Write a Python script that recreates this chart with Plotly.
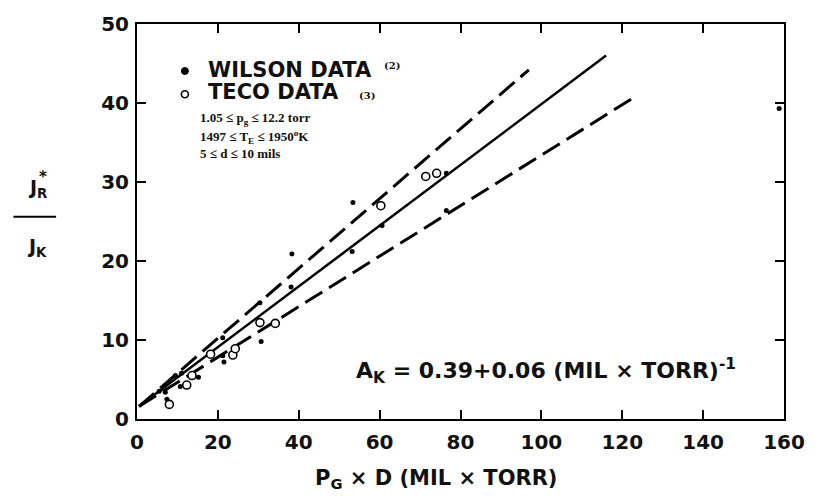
import plotly.graph_objects as go

# ---- data ----
wilson_x = [5.5, 7.0, 7.4, 9.5, 10.7, 11.0, 15.2, 21.2, 21.2, 21.5, 30.4, 30.7,
            38.3, 38.1, 53.4, 53.2, 60.6, 76.5, 76.5, 158.8]
wilson_y = [3.5, 3.4, 2.5, 5.5, 4.1, 5.8, 5.3, 10.3, 8.0, 7.2, 14.7, 9.8,
            20.9, 16.7, 27.4, 21.2, 24.5, 31.1, 26.4, 39.3]

teco_x = [8.0, 12.3, 13.6, 18.2, 23.7, 24.3, 30.4, 34.2, 60.3, 71.4, 74.1]
teco_y = [1.85, 4.3, 5.5, 8.2, 8.1, 8.9, 12.2, 12.1, 27.0, 30.7, 31.1]

fit_x = [0.5, 116.0]
fit_y = [1.6, 46.0]
upper_x = [0.5, 96.9]
upper_y = [1.6, 44.2]
lower_x = [0.5, 123.5]
lower_y = [1.6, 40.9]

x_ticks = [0, 20, 40, 60, 80, 100, 120, 140, 160]
y_ticks = [0, 10, 20, 30, 40, 50]

BOLD = "DejaVu Sans"

fig = go.Figure()
fig.add_trace(go.Scatter(x=upper_x, y=upper_y, mode="lines",
                         line=dict(color="black", width=3, dash="20px,8px")))
fig.add_trace(go.Scatter(x=fit_x, y=fit_y, mode="lines",
                         line=dict(color="black", width=2.5)))
fig.add_trace(go.Scatter(x=lower_x, y=lower_y, mode="lines",
                         line=dict(color="black", width=3, dash="20px,8px")))
fig.add_trace(go.Scatter(x=wilson_x, y=wilson_y, mode="markers",
                         marker=dict(color="black", size=5, symbol="circle")))
fig.add_trace(go.Scatter(x=teco_x, y=teco_y, mode="markers",
                         marker=dict(color="white", size=8, symbol="circle",
                                     line=dict(color="black", width=1.6))))

axis_common = dict(showline=True, linecolor="black", linewidth=2, mirror="ticks",
                   ticks="inside", ticklen=9, tickwidth=2, tickcolor="black",
                   showgrid=False, zeroline=False,
                   tickfont=dict(family=BOLD, size=20, color="#111", weight="bold"))

fig.update_xaxes(range=[0, 160], tickvals=x_ticks, ticklabelstandoff=4, **axis_common)
fig.update_yaxes(range=[0, 50], tickvals=y_ticks, ticklabelstandoff=2, **axis_common)

ann = []
def txt(x, y, s, size, family=BOLD, xanchor="left", color="#111"):
    ann.append(dict(x=x, y=y, xref="paper", yref="paper", text=s, showarrow=False,
                    xanchor=xanchor, yanchor="middle",
                    font=dict(family=family, size=size, color=color)))

# legend block
txt(0.106, 0.884, "<b>WILSON DATA</b>", 21)
txt(0.378, 0.896, "<b>(2)</b>", 10, family="DejaVu Serif")
txt(0.106, 0.827, "<b>TECO DATA</b>", 21)
txt(0.340, 0.818, "<b>(3)</b>", 10, family="DejaVu Serif")
txt(0.094, 0.760, "<b>1.05 ≤ p<sub>g</sub> ≤ 12.2 torr</b>", 13, family="Liberation Serif")
txt(0.094, 0.715, "<b>1497 ≤ T<sub>E</sub> ≤ 1950<sup>o</sup>K</b>", 13, family="Liberation Serif")
txt(0.094, 0.671, "<b>5 ≤ d ≤ 10 mils</b>", 13, family="Liberation Serif")

# equation
txt(0.632, 0.121, "<b>A<sub>K</sub> = 0.39+0.06 (MIL × TORR)<sup>-1</sup></b>", 22,
    xanchor="center")

# axis titles
txt(0.462, -0.151, "<b>P<sub>G</sub> × D (MIL × TORR)</b>", 21, xanchor="center")
txt(-0.154, 0.584, "<b>J<sub>R</sub></b>", 19, xanchor="center")
txt(-0.146, 0.613, "<b>*</b>", 15, xanchor="center")
txt(-0.154, 0.433, "<b>J<sub>K</sub></b>", 19, xanchor="center")

shapes = [
    dict(type="line", xref="paper", yref="paper", x0=-0.191, x1=-0.125,
         y0=0.512, y1=0.512, line=dict(color="black", width=2)),
    dict(type="circle", xref="paper", yref="paper", xsizemode="pixel", ysizemode="pixel",
         xanchor=0.074, yanchor=0.881, x0=-3.5, x1=3.5, y0=-3.5, y1=3.5,
         fillcolor="black", line=dict(color="black", width=1)),
    dict(type="circle", xref="paper", yref="paper", xsizemode="pixel", ysizemode="pixel",
         xanchor=0.074, yanchor=0.822, x0=-3.5, x1=3.5, y0=-3.5, y1=3.5,
         fillcolor="white", line=dict(color="black", width=1.6)),
]

fig.update_layout(width=817, height=498, showlegend=False,
                  paper_bgcolor="white", plot_bgcolor="white",
                  margin=dict(l=137, r=31, t=15, b=79),
                  annotations=ann, shapes=shapes)

fig.write_html("out.html", config={"displayModeBar": False},
               post_script="document.body.style.margin='0';document.body.style.overflow='hidden';")
